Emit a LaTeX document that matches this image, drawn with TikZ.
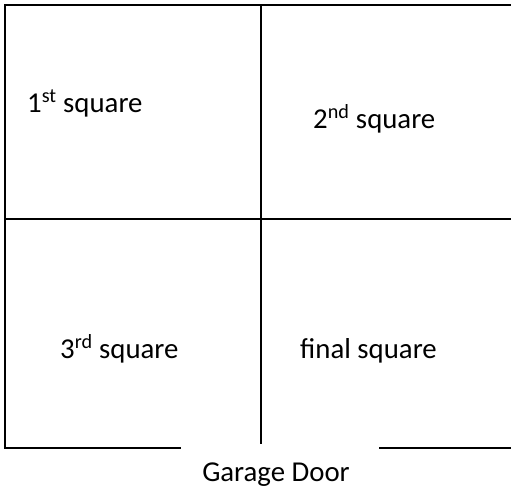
\documentclass[tikz,border=0pt]{standalone}
\usepackage{fontspec}
\setmainfont{Carlito}
\begin{document}
\begin{tikzpicture}[x=1pt,y=-1pt,
  wall/.style={line width=2pt,black},
  lbl/.style={anchor=base west,inner sep=0pt,font=\fontsize{28.8}{32}\selectfont}]
\useasboundingbox (0,0) rectangle (511,488);
% walls
\coordinate (tl) at (5,5);
\coordinate (tr) at (511,5);
\coordinate (bl) at (5,448);
\coordinate (gl) at (181,448);
\coordinate (gr) at (379,448);
\coordinate (br) at (511,448);
\coordinate (ml) at (5,218.5);
\coordinate (mr) at (511,218.5);
\coordinate (mt) at (261,5);
\coordinate (mb) at (261,444);
\draw[wall] (tr) -- (tl) -- (bl) -- (gl);
\draw[wall] (gr) -- (br);
\draw[wall] (ml) -- (mr);
\draw[wall] (mt) -- (mb);
% labels
\node[lbl] (s1) at (27,112) {1\textsuperscript{st} square};
\node[lbl] (s2) at (313,128) {2\textsuperscript{nd} square};
\node[lbl] (s3) at (60,358) {3\textsuperscript{rd} square};
\node[lbl] (s4) at (300,358) {final square};
\node[lbl,anchor=base] (gd) at (276,481.5) {Garage Door};
\end{tikzpicture}
\end{document}
